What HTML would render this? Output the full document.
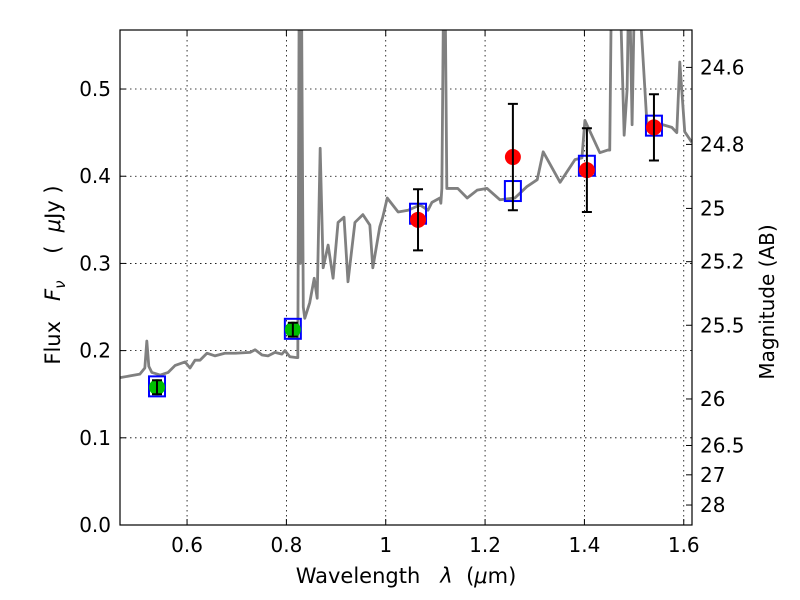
<!DOCTYPE html>
<html><head><meta charset="utf-8"><style>
body{margin:0;background:#fff}
svg{display:block;font-family:"DejaVu Sans","Liberation Sans",sans-serif}
text{white-space:pre}
</style></head><body>
<svg id="chart" width="800" height="600" viewBox="0 0 800 600" xmlns="http://www.w3.org/2000/svg">
<defs><clipPath id="clip"><rect x="120" y="30" width="572" height="495"/></clipPath></defs>
<rect x="0" y="0" width="800" height="600" fill="#fff"/>
<g id="grid"></g>
<g id="spec" clip-path="url(#clip)"></g>
<g id="marks" clip-path="url(#clip)"></g>
<rect x="120" y="30" width="572" height="495" fill="none" stroke="#000" stroke-width="1.2"/>
<g id="axes"></g>
<text x="406" y="583" font-size="21" text-anchor="middle" xml:space="preserve">Wavelength   <tspan font-style="italic">λ</tspan>  (<tspan font-style="italic">μ</tspan>m)</text>
<text transform="translate(60,275) rotate(-90)" font-size="21" text-anchor="middle" xml:space="preserve">Flux   <tspan font-style="italic">F</tspan><tspan font-style="italic" font-size="15" dy="5">ν</tspan><tspan dy="-5">    (  </tspan><tspan font-style="italic">μ</tspan>Jy )</text>
<text transform="translate(774,302) rotate(-90)" font-size="20" text-anchor="middle">Magnitude (AB)</text>
</svg>
<script>
const specWave=[.465,.485,.505,.515,.519,.523,.529,.546,.562,.576,.596,.606,.616,.626,.640,.656,.676,.697,.727,.737,.751,.763,.777,.791,.797,.807,.821,.823,.826,.828,.830,.834,.837,.847,.856,.862,.868,.874,.884,.894,.904,.916,.924,.938,.954,.968,.974,.988,.994,1.003,1.025,1.045,1.069,1.085,1.093,1.109,1.111,1.113,1.117,1.119,1.123,1.145,1.164,1.184,1.204,1.230,1.260,1.284,1.305,1.317,1.351,1.381,1.395,1.401,1.431,1.447,1.451,1.455,1.470,1.480,1.486,1.490,1.496,1.502,1.506,1.526,1.558,1.576,1.586,1.592,1.602,1.616];
const specFlux=[.169,.171,.173,.180,.211,.182,.175,.172,.175,.183,.187,.180,.189,.189,.197,.194,.197,.197,.198,.201,.195,.194,.198,.196,.200,.193,.192,.192,.65,.30,.65,.25,.237,.255,.283,.260,.432,.295,.321,.283,.347,.353,.279,.347,.356,.344,.295,.342,.353,.375,.359,.361,.367,.361,.370,.375,.369,.386,.65,.65,.386,.386,.375,.384,.386,.373,.375,.388,.396,.428,.393,.419,.421,.464,.427,.430,.430,.65,.65,.447,.50,.65,.459,.65,.65,.459,.459,.456,.450,.531,.451,.439,.459];
const photWave=[0.5395,0.813,1.065,1.256,1.405,1.540];
const photFlux=[0.158,0.224,0.350,0.422,0.407,0.456];
const photErr=[0.008,0.008,0.035,0.061,0.048,0.038];
const photColor=['#00bf00','#00bf00','#ff0000','#ff0000','#ff0000','#ff0000'];
const modelFlux=[0.159,0.225,0.357,0.383,0.412,0.458];
const xTicks=[0.6,0.8,1.0,1.2,1.4,1.6];
const xTickLabels=['0.6','0.8','1','1.2','1.4','1.6'];
const yTicks=[0,0.1,0.2,0.3,0.4,0.5];
const yTickLabels=['0.0','0.1','0.2','0.3','0.4','0.5'];
const magTicks=[24.6,24.8,25,25.2,25.5,26,26.5,27,28];
const magTickLabels=['24.6','24.8','25','25.2','25.5','26','26.5','27','28'];

const X0=120,X1=692,Y0=525,Y1=30,xmin=0.465,xmax=1.6166,ymin=0,ymax=0.5677;
const sx=v=>X0+(v-xmin)/(xmax-xmin)*(X1-X0);
const sy=v=>Y0-(v-ymin)/(ymax-ymin)*(Y0-Y1);
const NS='http://www.w3.org/2000/svg';
function mk(tag,attrs,parent){const e=document.createElementNS(NS,tag);for(const k in attrs)e.setAttribute(k,attrs[k]);parent.appendChild(e);return e;}
const grid=document.getElementById('grid'),axes=document.getElementById('axes'),spec=document.getElementById('spec'),marks=document.getElementById('marks');

xTicks.forEach((t,i)=>{const x=sx(t);
 const g=mk('line',{x1:x,x2:x,y1:Y1,y2:Y0,stroke:'#000','stroke-width':0.8,'stroke-dasharray':'1.5,3.5'},grid);
 
 
 mk('line',{x1:x,x2:x,y1:Y0,y2:Y0-6,stroke:'#000'},axes);
 mk('line',{x1:x,x2:x,y1:Y1,y2:Y1+6,stroke:'#000'},axes);
 const tx=mk('text',{x:x,y:Y0+27,'font-size':20,'text-anchor':'middle'},axes);
 tx.textContent=xTickLabels[i];
 
 
});
yTicks.forEach((t,i)=>{const y=sy(t);
 const g=mk('line',{x1:X0,x2:X1,y1:y,y2:y,stroke:'#000','stroke-width':0.8,'stroke-dasharray':'1.5,3.5'},grid);
 
 
 mk('line',{x1:X0,x2:X0+6,y1:y,y2:y,stroke:'#000'},axes);
 const tx=mk('text',{x:X0-9,y:y+7,'font-size':20,'text-anchor':'end'},axes);
 tx.textContent=yTickLabels[i];
 
 
});
magTicks.forEach((m,i)=>{const y=sy(Math.pow(10,(23.9-m)/2.5));
 mk('line',{x1:X1,x2:X1-6,y1:y,y2:y,stroke:'#000'},axes);
 const tx=mk('text',{x:X1+8,y:y+7,'font-size':20},axes);
 tx.textContent=magTickLabels[i];
 
 
});
const p=mk('polyline',{points:specWave.map((w,i)=>sx(w)+','+sy(specFlux[i])).join(' '),fill:'none',stroke:'#808080','stroke-width':2.8,'stroke-linejoin':'round'},spec);


photWave.forEach((w,i)=>{const x=sx(w);
 const b=mk('rect',{x:x-8,y:sy(modelFlux[i])-10,width:16,height:20,fill:'none',stroke:'#0000ff','stroke-width':2},marks);
 
 
 const c=mk('circle',{cx:x,cy:sy(photFlux[i]),r:8,fill:photColor[i]},marks);
 
 
 const ya=sy(photFlux[i]+photErr[i]),yb=sy(photFlux[i]-photErr[i]);
 const e=mk('path',{d:`M${x},${ya}V${yb}M${x-5},${ya}H${x+5}M${x-5},${yb}H${x+5}`,stroke:'#000','stroke-width':2,fill:'none'},marks);
 
 
});
</script>
</body></html>
